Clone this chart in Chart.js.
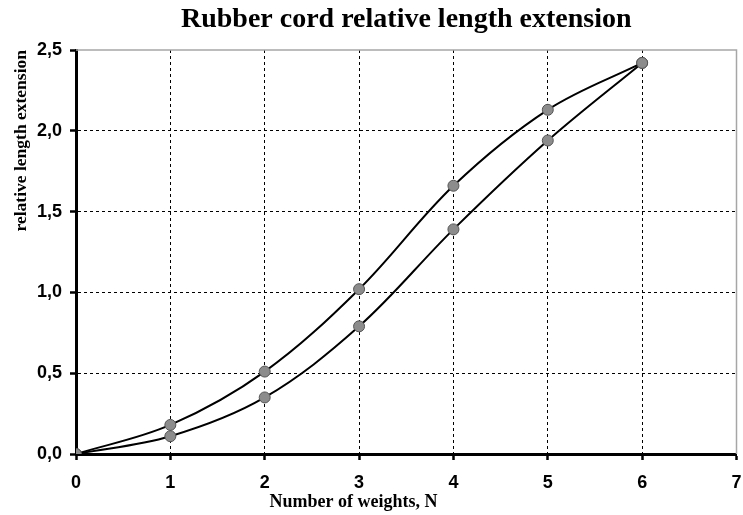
<!DOCTYPE html>
<html>
<head>
<meta charset="utf-8">
<script src="https://cdn.jsdelivr.net/npm/chart.js@4.4.1/dist/chart.umd.min.js"></script>
<style>
  html, body { margin: 0; padding: 0; background: #ffffff; }
  #wrap { width: 743px; height: 515px; }
</style>
</head>
<body>
<div id="wrap"><canvas id="c" width="743" height="515"></canvas></div>
<script>
// ---- Data ----
const weights = [0, 1, 2, 3, 4, 5, 6];
const loadingExt = [0, 0.18, 0.51, 1.02, 1.66, 2.13, 2.42];
const unloadingExt = [0, 0.11, 0.35, 0.79, 1.39, 1.94, 2.42];
const chartTitle = 'Rubber cord relative length extension';
const xTitle = 'Number of weights, N';
const yTitle = 'relative length extension';

const toPoints = (ys) => weights.map((x, i) => ({ x: x, y: ys[i] }));
const fmt = (v, d) => Number(v).toFixed(d).replace('.', ',');

const frame = {
  id: 'frame',
  beforeDatasetsDraw(chart) {
    const { ctx, chartArea: a } = chart;
    ctx.save();
    ctx.strokeStyle = '#a6a6a6';
    ctx.lineWidth = 1.5;
    ctx.beginPath();
    ctx.moveTo(a.left, a.top);
    ctx.lineTo(a.right, a.top);
    ctx.lineTo(a.right, a.bottom);
    ctx.stroke();
    ctx.restore();
  },
  afterDraw(chart) {
    const { ctx, chartArea: a } = chart;
    ctx.save();
    ctx.font = 'bold 18px "Liberation Serif", "Times New Roman", serif';
    ctx.fillStyle = '#000';
    ctx.textAlign = 'center';
    ctx.textBaseline = 'middle';
    ctx.fillText(xTitle, a.left + (a.right - a.left) * 0.42, chart.height - 13);
    ctx.restore();
  }
};

const common = {
  borderColor: '#000000',
  borderWidth: 2,
  tension: 0.35,
  pointRadius: 5.5,
  pointHoverRadius: 5.5,
  pointBackgroundColor: '#8c8c8c',
  pointBorderColor: '#555555',
  pointBorderWidth: 1,
  fill: false
};

new Chart(document.getElementById('c'), {
  type: 'line',
  data: {
    datasets: [
      Object.assign({ label: 'loading', data: toPoints(loadingExt) }, common),
      Object.assign({ label: 'unloading', data: toPoints(unloadingExt) }, common)
    ]
  },
  options: {
    responsive: false,
    animation: false,
    devicePixelRatio: 1,
    layout: { padding: { left: 0, right: 6, top: 0, bottom: 0 } },
    plugins: {
      legend: { display: false },
      tooltip: { enabled: false },
      title: {
        display: true,
        text: chartTitle,
        fullSize: false,
        color: '#000',
        font: { family: '"Liberation Serif", "Times New Roman", serif', size: 28, weight: 'bold', lineHeight: 1.2 },
        padding: { top: 2.5, bottom: 13.9 }
      }
    },
    scales: {
      x: {
        type: 'linear',
        min: 0,
        max: 7,
        afterFit(scale) { scale.height = 61; scale.paddingLeft = 0; scale.paddingRight = 0; },
        ticks: {
          stepSize: 1,
          color: '#000',
          padding: 12,
          font: { family: '"Liberation Sans", Arial, sans-serif', size: 18, weight: 'bold' },
          callback: (v) => fmt(v, 0)
        },
        grid: {
          color: (ctx) => (ctx.tick && ctx.tick.value >= 7 ? 'rgba(0,0,0,0)' : '#000'),
          lineWidth: 1,
          drawTicks: true,
          tickLength: 6,
          tickColor: '#000',
          tickWidth: 2.5,
          tickBorderDash: []
        },
        border: { display: true, color: '#000', width: 3, dash: [3, 3] },
        title: { display: false }
      },
      y: {
        type: 'linear',
        min: 0,
        max: 2.5,
        afterFit(scale) { scale.width = 76; },
        ticks: {
          stepSize: 0.5,
          color: '#000',
          padding: 8,
          font: { family: '"Liberation Sans", Arial, sans-serif', size: 18, weight: 'bold' },
          callback: (v) => fmt(v, 1)
        },
        grid: {
          color: (ctx) => (ctx.tick && ctx.tick.value >= 2.5 ? 'rgba(0,0,0,0)' : '#000'),
          lineWidth: 1,
          drawTicks: true,
          tickLength: 6,
          tickColor: '#000',
          tickWidth: 2.5,
          tickBorderDash: []
        },
        border: { display: true, color: '#000', width: 3, dash: [3, 3] },
        title: {
          display: true,
          text: yTitle,
          align: 'end',
          color: '#000',
          font: { family: '"Liberation Serif", "Times New Roman", serif', size: 17.5, weight: 'bold', lineHeight: 1.2 },
          padding: { top: 11, bottom: 0 }
        }
      }
    }
  },
  plugins: [frame]
});
</script>
</body>
</html>
